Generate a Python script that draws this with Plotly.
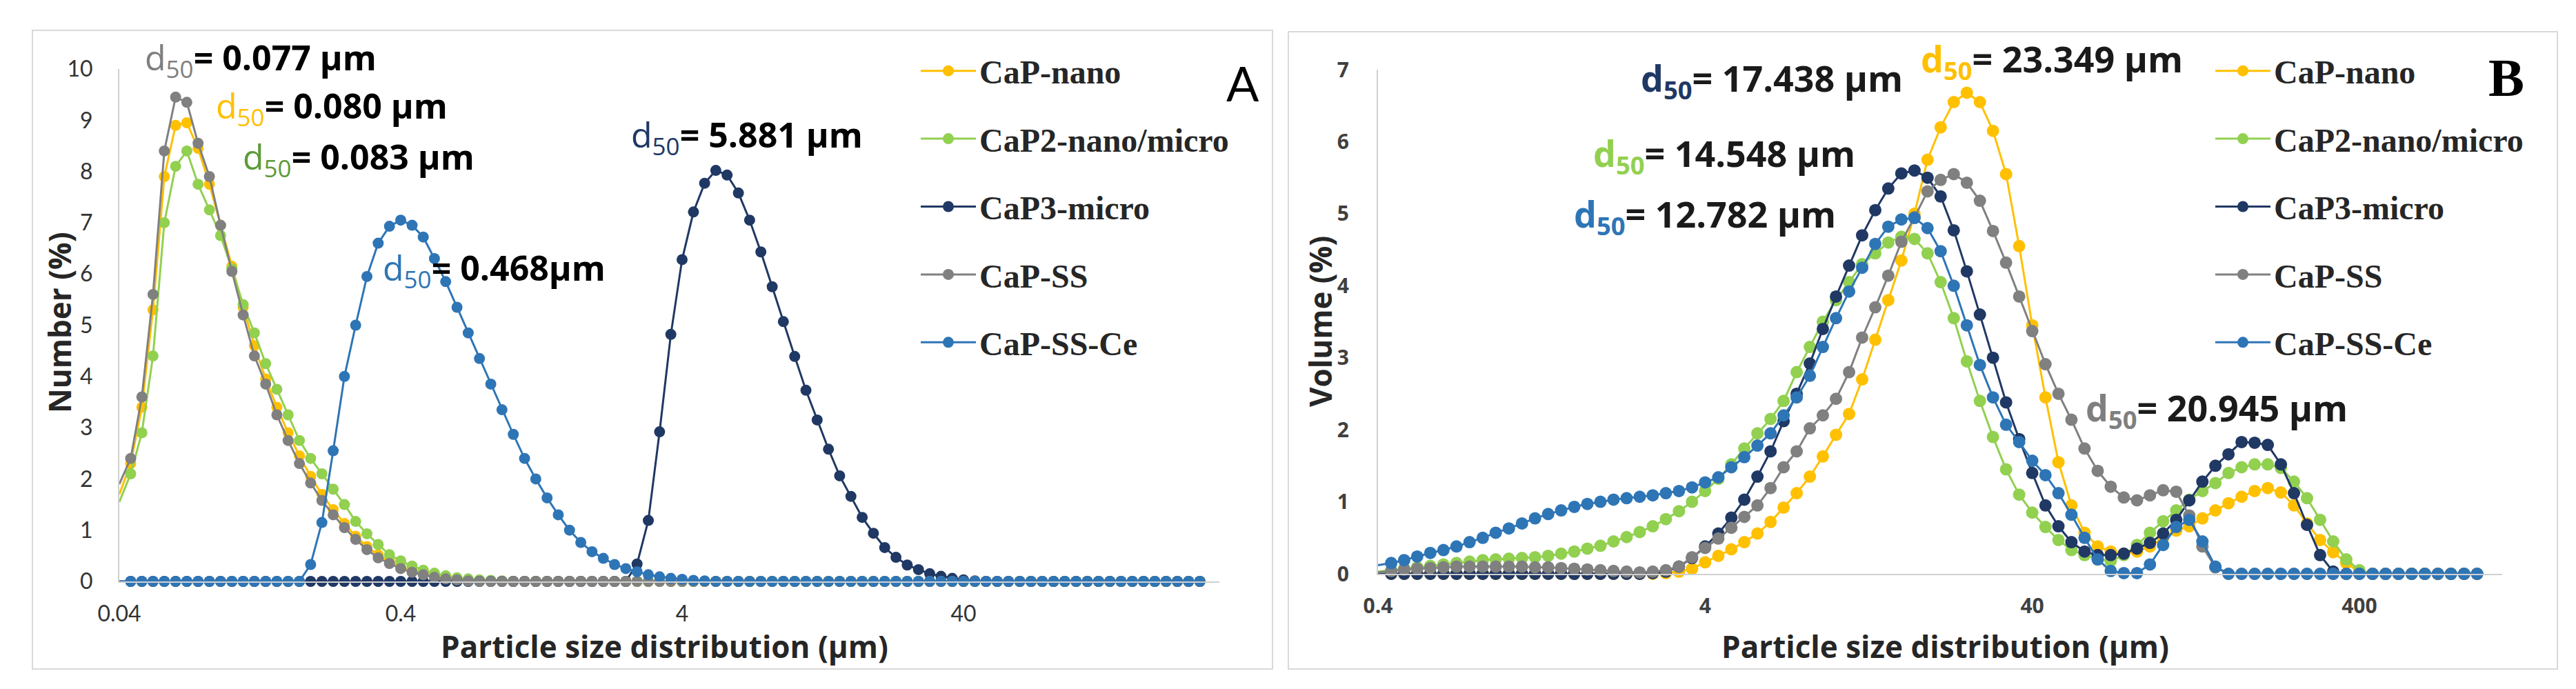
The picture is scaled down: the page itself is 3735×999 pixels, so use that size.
import plotly.graph_objects as go

# particle size bins (µm)
size_a = [0.0400, 0.0439, 0.0481, 0.0527, 0.0578, 0.0634, 0.0695, 0.0762, 0.0836, 0.0916,
          0.1005, 0.1102, 0.1208, 0.1325, 0.1452, 0.1592, 0.1746, 0.1914, 0.2099, 0.2302,
          0.2524, 0.2767, 0.3034, 0.3327, 0.3648,
          0.400, 0.439, 0.481, 0.527, 0.578, 0.634, 0.695, 0.762, 0.836, 0.916,
          1.005, 1.102, 1.208, 1.325, 1.452, 1.592, 1.746, 1.914, 2.099, 2.302,
          2.524, 2.767, 3.034, 3.327, 3.648,
          4.00, 4.39, 4.81, 5.27, 5.78, 6.34, 6.95, 7.62, 8.36, 9.16,
          10.05, 11.02, 12.08, 13.25, 14.52, 15.92, 17.46, 19.14, 20.99, 23.02,
          25.24, 27.67, 30.34, 33.27, 36.48,
          40.0, 43.9, 48.1, 52.7, 57.8, 63.4, 69.5, 76.2, 83.6, 91.6,
          100.5, 110.2, 120.8, 132.5, 145.2, 159.2, 174.6, 191.4, 209.9, 230.2,
          252.4, 276.7]

size_b = [0.400, 0.439, 0.481, 0.527, 0.578, 0.634, 0.695, 0.762, 0.836, 0.916,
          1.005, 1.102, 1.208, 1.325, 1.452, 1.592, 1.746, 1.914, 2.099, 2.302,
          2.524, 2.767, 3.034, 3.327, 3.648,
          4.00, 4.39, 4.81, 5.27, 5.78, 6.34, 6.95, 7.62, 8.36, 9.16,
          10.05, 11.02, 12.08, 13.25, 14.52, 15.92, 17.46, 19.14, 20.99, 23.02,
          25.24, 27.67, 30.34, 33.27, 36.48,
          40.0, 43.9, 48.1, 52.7, 57.8, 63.4, 69.5, 76.2, 83.6, 91.6,
          100.5, 110.2, 120.8, 132.5, 145.2, 159.2, 174.6, 191.4, 209.9, 230.2,
          252.4, 276.7, 303.4, 332.7, 364.8,
          400, 439, 481, 527, 578, 634, 695, 762, 836, 916]

names = ['CaP-nano', 'CaP2-nano/micro', 'CaP3-micro', 'CaP-SS', 'CaP-SS-Ce']
colors = ['#FFC000', '#92D050', '#203864', '#808080', '#2E75B6']

# panel A - number distribution (%)
nano_a = [1.7, 2.3, 3.4, 5.3, 7.9, 8.9, 8.95, 8.45, 7.75, 6.95,
          6.15, 5.35, 4.6, 3.95, 3.4, 2.9, 2.45, 2.05, 1.7, 1.4,
          1.13, 0.88, 0.68, 0.52, 0.39, 0.29, 0.21, 0.15, 0.1, 0.06,
          0.04, 0.02, 0.01] + [0.0] * 64
nanomicro_a = [1.55, 2.1, 2.9, 4.4, 7.0, 8.1, 8.4, 7.75, 7.25, 6.75,
               6.1, 5.4, 4.85, 4.25, 3.75, 3.25, 2.75, 2.4, 2.1, 1.8,
               1.5, 1.17, 0.93, 0.72, 0.52, 0.4, 0.3, 0.22, 0.16, 0.11,
               0.07, 0.05, 0.03, 0.02, 0.01] + [0.0] * 62
micro_a = [0.0] * 46 + [0.34, 1.19, 2.92, 4.82, 6.28, 7.21, 7.77, 8.02, 7.93, 7.58,
                        7.05, 6.43, 5.75, 5.07, 4.39, 3.73, 3.15, 2.58, 2.06, 1.66,
                        1.25, 0.94, 0.66, 0.47, 0.32, 0.23, 0.15, 0.1, 0.06, 0.03,
                        0.01] + [0.0] * 20
ss_a = [1.9, 2.4, 3.6, 5.6, 8.4, 9.45, 9.35, 8.55, 7.9, 6.95,
        6.05, 5.2, 4.4, 3.85, 3.25, 2.75, 2.3, 1.92, 1.58, 1.3,
        1.05, 0.82, 0.62, 0.46, 0.35, 0.25, 0.18, 0.13, 0.08, 0.05,
        0.03, 0.01] + [0.0] * 65
ssce_a = [0.0] * 17 + [0.33, 1.15, 2.55, 4.0, 5.0, 5.95, 6.6, 6.93, 7.05, 6.95,
                       6.72, 6.3, 5.85, 5.35, 4.85, 4.35, 3.85, 3.35, 2.87, 2.4,
                       2.0, 1.63, 1.3, 1.0, 0.76, 0.58, 0.45, 0.33, 0.25, 0.19,
                       0.13, 0.09, 0.06, 0.04, 0.02, 0.01] + [0.0] * 44

# panel B - volume distribution (%)
nano_b = [0.0] * 22 + [0.01, 0.03, 0.07, 0.16, 0.25, 0.34, 0.44, 0.56, 0.72, 0.92,
                       1.12, 1.35, 1.63, 1.93, 2.22, 2.7, 3.25, 3.8, 4.35, 5.0,
                       5.75, 6.2, 6.55, 6.68, 6.55, 6.15, 5.55, 4.55, 3.45, 2.45,
                       1.55, 0.95, 0.57, 0.38, 0.31, 0.28, 0.31, 0.38, 0.5, 0.6,
                       0.66, 0.77, 0.88, 0.98, 1.07, 1.15, 1.19, 1.13, 0.95, 0.7,
                       0.47, 0.3, 0.15, 0.02] + [0.0] * 9
nanomicro_b = [0.03, 0.05, 0.07, 0.09, 0.11, 0.13, 0.15, 0.17, 0.19, 0.2,
               0.21, 0.22, 0.23, 0.25, 0.28, 0.31, 0.35, 0.39, 0.45, 0.51,
               0.58, 0.66, 0.76, 0.87, 1.0, 1.15, 1.32, 1.52, 1.74, 1.95,
               2.15, 2.4, 2.8, 3.15, 3.5, 3.8, 4.05, 4.3, 4.45, 4.6,
               4.68, 4.65, 4.45, 4.05, 3.55, 2.95, 2.4, 1.9, 1.45, 1.1,
               0.85, 0.65, 0.47, 0.33, 0.26, 0.2, 0.18, 0.26, 0.4, 0.57,
               0.73, 0.88, 1.03, 1.15, 1.26, 1.4, 1.48, 1.52, 1.52, 1.47,
               1.28, 1.05, 0.75, 0.45, 0.2, 0.05] + [0.0] * 9
micro_b = [0.0] * 21 + [0.01, 0.03, 0.1, 0.22, 0.38, 0.56, 0.78, 1.03, 1.35, 1.7,
                        2.12, 2.5, 2.92, 3.4, 3.85, 4.28, 4.7, 5.05, 5.35, 5.56,
                        5.6, 5.5, 5.24, 4.77, 4.2, 3.6, 3.0, 2.38, 1.87, 1.4,
                        0.95, 0.66, 0.44, 0.31, 0.26, 0.26, 0.28, 0.35, 0.43, 0.56,
                        0.75, 1.02, 1.28, 1.5, 1.66, 1.83, 1.82, 1.79, 1.52, 1.12,
                        0.68, 0.26, 0.03] + [0.0] * 11
ss_b = [0.02, 0.04, 0.06, 0.07, 0.08, 0.09, 0.1, 0.1, 0.1, 0.1,
        0.1, 0.1, 0.09, 0.09, 0.08, 0.07, 0.06, 0.05, 0.04, 0.03,
        0.02, 0.03, 0.05, 0.1, 0.23, 0.36, 0.49, 0.64, 0.79, 0.95,
        1.19, 1.48, 1.7, 2.02, 2.2, 2.43, 2.8, 3.28, 3.7, 4.14,
        4.61, 4.95, 5.31, 5.47, 5.55, 5.43, 5.18, 4.76, 4.32, 3.85,
        3.37, 2.91, 2.5, 2.14, 1.74, 1.43, 1.21, 1.06, 1.02, 1.09,
        1.16, 1.14, 0.81, 0.38, 0.09] + [0.0] * 20
ssce_b = [0.12, 0.15, 0.19, 0.24, 0.29, 0.33, 0.38, 0.44, 0.5, 0.57,
          0.63, 0.7, 0.77, 0.83, 0.88, 0.93, 0.97, 1.0, 1.03, 1.05,
          1.07, 1.09, 1.12, 1.15, 1.2, 1.27, 1.34, 1.48, 1.62, 1.78,
          1.95, 2.2, 2.45, 2.75, 3.15, 3.55, 3.92, 4.25, 4.58, 4.82,
          4.92, 4.94, 4.8, 4.48, 4.0, 3.45, 2.9, 2.45, 2.07, 1.83,
          1.57, 1.37, 1.12, 0.82, 0.5, 0.2, 0.04, 0.01, 0.01, 0.13,
          0.4, 0.65, 0.75, 0.45, 0.1] + [0.0] * 20

ticks_a = [0.04, 0.4, 4, 40]
ticks_b = [0.4, 4, 40, 400]

# d50 labels: (text, colour of d50)
d50_a = [('0.077 µm', '#7F7F7F'), ('0.080 µm', '#FFC000'), ('0.083 µm', '#5E9A3A'),
         ('0.468µm', '#2E75B6'), ('5.881 µm', '#203864')]
d50_b = [('17.438 µm', '#203864'), ('14.548 µm', '#92D050'), ('12.782 µm', '#2E75B6'),
         ('23.349 µm', '#FFC000'), ('20.945 µm', '#7F7F7F')]

W, H = 3735, 999


def px(x):
    return x / W


def py(y):
    return 1 - y / H


fig = go.Figure()

for i, ys in enumerate([nano_a, nanomicro_a, micro_a, ss_a, ssce_a]):
    fig.add_trace(go.Scatter(
        x=size_a, y=ys, name=names[i], mode='lines+markers',
        line=dict(color=colors[i], width=3), marker=dict(color=colors[i], size=16),
        cliponaxis=False, xaxis='x', yaxis='y', legend='legend', legendgroup='a%d' % i))

for i, ys in enumerate([nano_b, nanomicro_b, micro_b, ss_b, ssce_b]):
    fig.add_trace(go.Scatter(
        x=size_b, y=ys, name=names[i], mode='lines+markers',
        line=dict(color=colors[i], width=3), marker=dict(color=colors[i], size=18),
        cliponaxis=False, xaxis='x2', yaxis='y2', legend='legend2', legendgroup='b%d' % i))

tick_a = dict(family='Lato', size=32, color='#333333')
tick_b = dict(family='Open Sans', size=30, color='#404040', weight='bold')
axline = dict(showline=True, linecolor='#D0D0D0', linewidth=2, showgrid=False,
              zeroline=False, ticks='', automargin=False)

legend_font = dict(family='Liberation Serif', size=48, color='#262626', weight='bold')

fig.update_layout(
    width=W, height=H,
    margin=dict(l=0, r=0, t=0, b=0, autoexpand=False),
    paper_bgcolor='white', plot_bgcolor='rgba(0,0,0,0)',
    xaxis=dict(domain=[px(165), px(1760)], type='log', range=[-1.39794, 2.5114],
               tickvals=ticks_a, ticktext=[str(t) for t in ticks_a], tickfont=tick_a,
               ticklabelstandoff=18, anchor='y', **axline),
    yaxis=dict(domain=[py(835), py(92)], range=[0, 10], dtick=1, tickfont=tick_a,
               ticklabelstandoff=30, anchor='x', **axline),
    xaxis2=dict(domain=[px(1990), px(3620)], type='log', range=[-0.39794, 3.0387],
                tickvals=ticks_b, ticktext=[str(t) for t in ticks_b], tickfont=tick_b,
                ticklabelstandoff=19, anchor='y2', **axline),
    yaxis2=dict(domain=[py(824), py(93)], range=[0, 7], dtick=1, tickfont=tick_b,
                ticklabelstandoff=34, anchor='x2', **axline),
    legend=dict(x=px(1322), y=py(57), xanchor='left', yanchor='top', font=legend_font,
                bgcolor='rgba(0,0,0,0)', tracegroupgap=33, itemwidth=80),
    legend2=dict(x=px(3199), y=py(57), xanchor='left', yanchor='top', font=legend_font,
                 bgcolor='rgba(0,0,0,0)', tracegroupgap=33, itemwidth=80),
    shapes=[
        dict(type='rect', xref='paper', yref='paper', x0=px(39), x1=px(1837), y0=py(962), y1=py(36),
             line=dict(color='#D9D9D9', width=2)),
        dict(type='rect', xref='paper', yref='paper', x0=px(1860), x1=px(3700), y0=py(962), y1=py(38),
             line=dict(color='#D9D9D9', width=2)),
    ],
)

title_font = dict(family='Open Sans', size=44, color='#262626', weight='bold')
annotations = [
    dict(text='Particle size distribution (µm)', x=px(955), y=py(929), font=title_font),
    dict(text='Number (%)', x=px(78), y=py(460), textangle=-90, font=title_font),
    dict(text='Particle size distribution (µm)', x=px(2812), y=py(929), font=title_font),
    dict(text='Volume (%)', x=px(1906), y=py(458), textangle=-90, font=title_font),
    dict(text='A', x=px(1794), y=py(112), font=dict(family='Lato', size=70, color='black')),
    dict(text='B', x=px(3626), y=py(105),
         font=dict(family='Liberation Serif', size=78, color='black', weight='bold')),
]

# d50 annotation positions (left edge, vertical centre) in pixels
pos_a = [(200, 78), (303, 148), (342, 222), (545, 383), (905, 190)]
pos_b = [(2369, 108), (2300, 217), (2272, 305), (2775, 80), (3014, 586)]

for (val, col), (x, y) in zip(d50_a, pos_a):
    annotations.append(dict(
        text="<span style='color:%s;font-weight:normal'>d<sub>50</sub></span>= %s" % (col, val),
        x=px(x), y=py(y), xanchor='left',
        font=dict(family='Open Sans', size=50, color='black', weight='bold')))

for (val, col), (x, y) in zip(d50_b, pos_b):
    annotations.append(dict(
        text="<span style='color:%s'>d<sub>50</sub></span>= %s" % (col, val),
        x=px(x), y=py(y), xanchor='left',
        font=dict(family='Open Sans', size=52, color='#1a1a1a', weight='bold')))

for a in annotations:
    a.update(xref='paper', yref='paper', showarrow=False)
    a.setdefault('xanchor', 'center')
    a.setdefault('yanchor', 'middle')

fig.update_layout(annotations=annotations)

fig.write_html("out.html")
